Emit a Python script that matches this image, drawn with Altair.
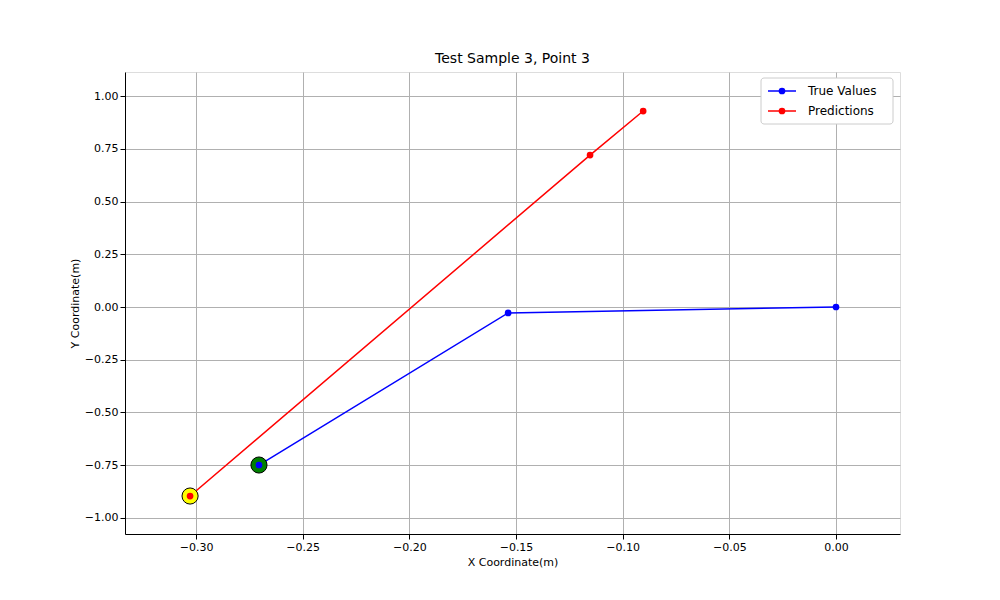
import pandas as pd
import altair as alt

# values
true_x = [0.0, -0.1537, -0.2705]
true_y = [0.0, -0.028, -0.749]
pred_x = [-0.0904, -0.1153, -0.3028]
pred_y = [0.929, 0.720, -0.896]
leg_names = ["True Values", "Predictions"]

rows = []
for i, (x, y) in enumerate(zip(true_x, true_y)):
    rows.append({"x": x, "y": y, "series": "True Values", "step": i})
for i, (x, y) in enumerate(zip(pred_x, pred_y)):
    rows.append({"x": x, "y": y, "series": "Predictions", "step": i})
df = pd.DataFrame(rows)

ends = pd.DataFrame({
    "x": [true_x[-1], pred_x[-1]],
    "y": [true_y[-1], pred_y[-1]],
    "fill": ["green", "yellow"],
    "c": ["blue", "red"],
})

xs = alt.Scale(domain=[-0.3333, 0.030], nice=False, zero=False)
ys = alt.Scale(domain=[-1.076, 1.114], nice=False, zero=False)
colors = alt.Scale(domain=leg_names, range=["blue", "red"])

axis_style = dict(format=".2f", gridColor="#b0b0b0", tickColor="black",
                  domainColor="black", labelColor="black", labelFontSize=11,
                  titleFontSize=11, titleFontWeight="normal", titleColor="black")
X = alt.X("x:Q", scale=xs, title="X Coordinate(m)",
          axis=alt.Axis(values=[-0.30, -0.25, -0.20, -0.15, -0.10, -0.05, 0.00], **axis_style))
Y = alt.Y("y:Q", scale=ys, title="Y Coordinate(m)",
          axis=alt.Axis(values=[-1.0, -0.75, -0.5, -0.25, 0.0, 0.25, 0.5, 0.75, 1.0], **axis_style))

base = alt.Chart(df).encode(
    x=X, y=Y,
    color=alt.Color("series:N", scale=colors, legend=None),
    detail="series:N", order="step:Q",
)
lines = base.mark_line(strokeWidth=1.5)
dots = base.mark_circle(size=45, opacity=1)

big = alt.Chart(ends).mark_circle(size=260, opacity=1, stroke="black", strokeWidth=1).encode(
    x=X, y=Y, fill=alt.Fill("fill:N", scale=None))
inner = alt.Chart(ends).mark_circle(size=45, opacity=1).encode(
    x=X, y=Y, fill=alt.Fill("c:N", scale=None))

# legend box, top right of the plot area
one = pd.DataFrame({"a": [0]})
box = alt.Chart(one).mark_rect(fill="white", stroke="#cccccc", cornerRadius=3).encode(
    x=alt.value(636), x2=alt.value(768), y=alt.value(6), y2=alt.value(52))
leg_parts = []
for i, c in enumerate(["blue", "red"]):
    yy = 19 + i * 20
    leg_parts.append(alt.Chart(one).mark_rule(strokeWidth=1.5, color=c).encode(
        x=alt.value(643), x2=alt.value(671), y=alt.value(yy)))
    leg_parts.append(alt.Chart(one).mark_circle(size=45, opacity=1, color=c).encode(
        x=alt.value(657), y=alt.value(yy)))
    leg_parts.append(alt.Chart(one).mark_text(align="left", baseline="middle", fontSize=12,
                                              color="black").encode(
        x=alt.value(683), y=alt.value(yy), text=alt.value(leg_names[i])))

chart = alt.layer(lines, dots, big, inner, box, *leg_parts).properties(
    width=775, height=462,
    padding={"left": 117, "top": 64, "right": 92, "bottom": 58},
    autosize=alt.AutoSizeParams(type="none"),
    title=alt.TitleParams("Test Sample 3, Point 3", fontSize=14,
                          fontWeight="normal", color="black", offset=6),
).configure_view(stroke="black", strokeWidth=1).configure(
    font="DejaVu Sans", background="white")

chart.save("out.html", embed_options={"renderer": "svg", "actions": False})
